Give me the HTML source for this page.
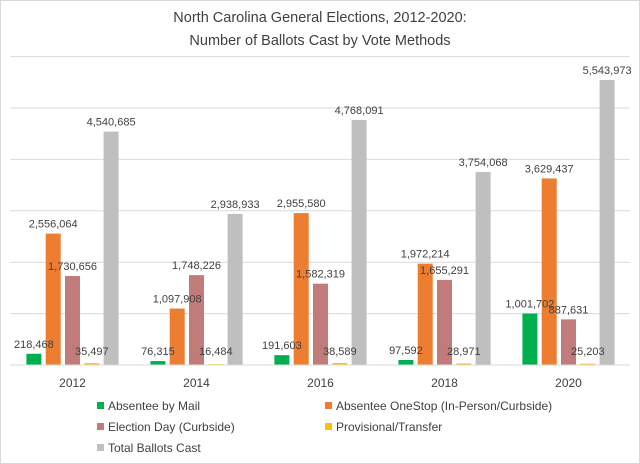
<!DOCTYPE html>
<html><head><meta charset="utf-8"><style>
body{margin:0;background:#fff}
svg{display:block;font-family:"Liberation Sans",sans-serif}
</style></head><body>
<svg width="640" height="464" viewBox="0 0 640 464">
<rect x="0.5" y="0.5" width="639" height="463" fill="#fff" stroke="#d9d9d9"/>
<text x="320" y="22" text-anchor="middle" font-size="14.5" fill="#404040">North Carolina General Elections, 2012-2020:</text>
<text x="320" y="45" text-anchor="middle" font-size="14.5" fill="#404040">Number of Ballots Cast by Vote Methods</text>
<g id="grid"></g><g id="bars"></g><g id="labels"></g><g id="xaxis"></g><g id="legend"></g>
</svg>
<script>
const years=["2012","2014","2016","2018","2020"];
const mail=[218468,76315,191603,97592,1001702];
const onestop=[2556064,1097908,2955580,1972214,3629437];
const electionDay=[1730656,1748226,1582319,1655291,887631];
const provisional=[35497,16484,38589,28971,25203];
const total=[4540685,2938933,4768091,3754068,5543973];
const gridTicks=[0,1000000,2000000,3000000,4000000,5000000,6000000];
const seriesNames=["Absentee by Mail","Absentee OneStop (In-Person/Curbside)","Election Day (Curbside)","Provisional/Transfer","Total Ballots Cast"];
const series=[mail,onestop,electionDay,provisional,total];
const colors=["#00b050","#ed7d31","#c27b7b","#ffc000","#bfbfbf"];
const NS="http://www.w3.org/2000/svg";
const base=365, pxPerM=51.4;
const y=v=>base-v/1e6*pxPerM;
const groupX=i=>72.5+i*124;
const barX=(i,s)=>groupX(i)+(s-2)*19.3-7.5;
function mk(tag,attrs,parent){const e=document.createElementNS(NS,tag);for(const k in attrs)e.setAttribute(k,attrs[k]);document.getElementById(parent).appendChild(e);return e;}
gridTicks.forEach(t=>{if(t===0)return;
 const l=mk("line",{x1:10,x2:630,y1:y(t),y2:y(t),stroke:"#d9d9d9","stroke-width":1},"grid");
 
 });
const ax=mk("line",{x1:10,x2:630,y1:base,y2:base,stroke:"#d9d9d9","stroke-width":1},"xaxis");


years.forEach((yr,i)=>{
 const t=mk("text",{x:groupX(i),y:387,"text-anchor":"middle","font-size":12,fill:"#404040"},"xaxis");t.textContent=yr;
 
 
 series.forEach((arr,s)=>{
  const v=arr[i],top=y(v);
  const r=mk("rect",{x:barX(i,s),y:top,width:15,height:base-top,fill:colors[s]},"bars");
  
  
  const lb=mk("text",{x:barX(i,s)+7.5,y:Math.min(top-6,355),"text-anchor":"middle","font-size":11,fill:"#404040"},"labels");
  lb.textContent=v.toLocaleString("en-US");
  
  
 });
});
const lpos=[[97,406],[325,406],[97,427],[325,427],[97,448]];
seriesNames.forEach((n,s)=>{
 const [lx,ly]=lpos[s];
 const r=mk("rect",{x:lx,y:ly-4,width:7,height:7,fill:colors[s]},"legend");
 
 
 const t=mk("text",{x:lx+11,y:ly+4,"font-size":12,fill:"#404040"},"legend");t.textContent=n;
 
 
});
</script>
</body></html>
